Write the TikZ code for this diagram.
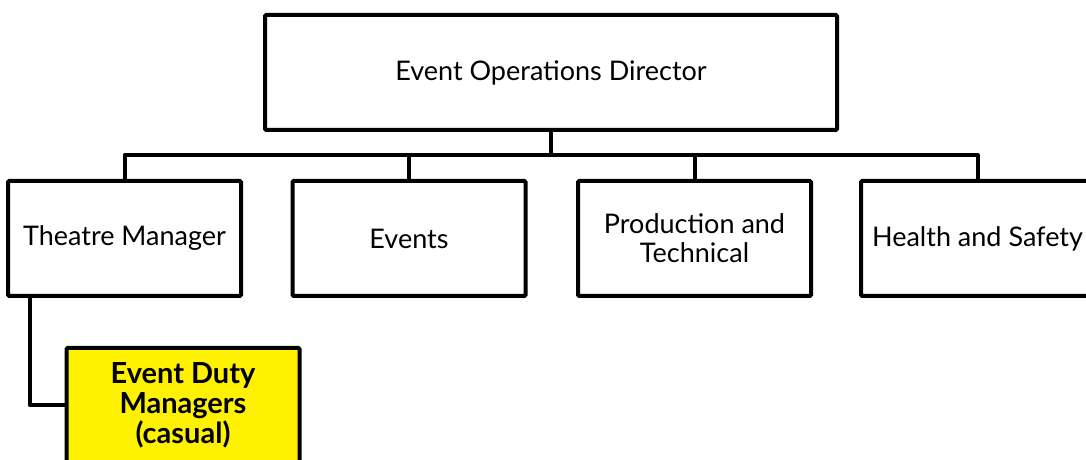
\documentclass[tikz,border=0pt]{standalone}
\usepackage{fontspec}
\setmainfont{Lato}
\begin{document}
\begin{tikzpicture}[x=1pt,y=1pt,
  orgbox/.style={draw=black, line width=4pt, fill=white, rounded corners=1.2pt,
    minimum width=233pt, minimum height=115pt, align=center, inner sep=2pt,
    font=\fontsize{27}{30}\selectfont},
  link/.style={line width=4pt, line join=round}]
\useasboundingbox (0,0) rectangle (1086,460);
\clip (0,0) rectangle (1086,460);
\fill[white] (0,0) rectangle (1086,460);

% top of the hierarchy
\node[orgbox, minimum width=572pt] (dir) at (551,387.5) {Event Operations Director};

% second level
\node[orgbox] (tm)   at (124.5,221.5) {Theatre Manager};
\node[orgbox] (ev)   at (409,221.5)   {Events};
\node[orgbox] (pt)   at (694.5,221.5) {Production and\\[-1pt]Technical};
\node[orgbox] (hs)   at (977.5,221.5) {Health and Safety};

% third level
\node[orgbox, fill=yellow, font=\fontsize{29}{30}\selectfont\bfseries]
  (edm) at (183,54.5) {Event Duty\\Managers\\(casual)};

% reporting lines
\coordinate (bus) at (551,305);
\draw[link] (dir.south) -- (bus);
\draw[link] (tm.north) -- (tm.north |- bus) -- (hs.north |- bus) -- (hs.north);
\draw[link] (ev.north) -- (ev.north |- bus);
\draw[link] (pt.north) -- (pt.north |- bus);
\draw[link] ([xshift=24pt]tm.south west) |- (edm.west);
\end{tikzpicture}
\end{document}
